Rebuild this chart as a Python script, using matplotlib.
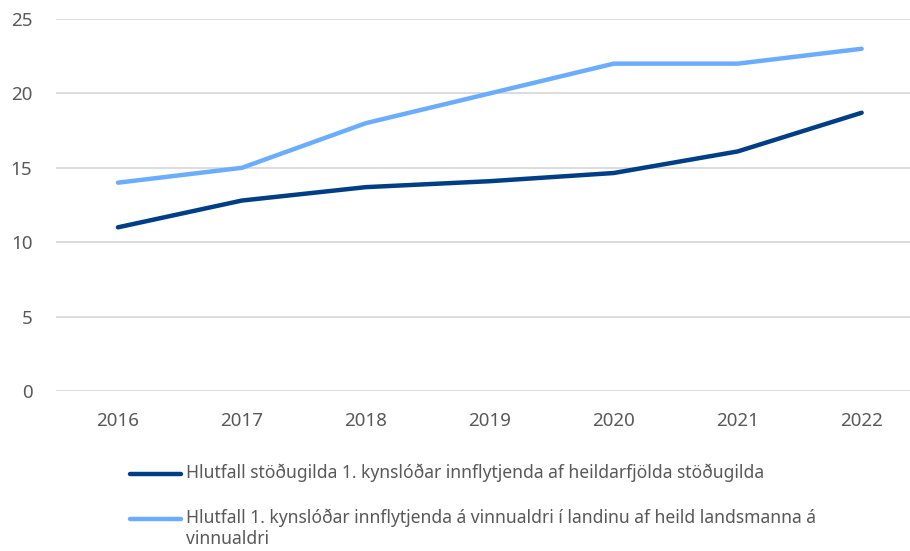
import matplotlib.pyplot as plt
from matplotlib.lines import Line2D

# data
years = ["2016", "2017", "2018", "2019", "2020", "2021", "2022"]
stodugildi = [11.0, 12.8, 13.7, 14.1, 14.65, 16.1, 18.7]
vinnualdur = [14.0, 15.0, 18.0, 20.0, 22.0, 22.0, 23.0]
labels = [
    "Hlutfall stöðugilda 1. kynslóðar innflytjenda af heildarfjölda stöðugilda",
    "Hlutfall 1. kynslóðar innflytjenda á vinnualdri í landinu af heild landsmanna á\nvinnualdri",
]
colors = ["#003f87", "#6aadfe"]

plt.rcParams["font.family"] = ["Noto Sans", "DejaVu Sans"]
txt_color = "#595959"

fig = plt.figure(figsize=(9.1, 5.51), dpi=100, facecolor="white")
ax = fig.add_axes([56 / 910, 1 - 391 / 551, 1 - 56 / 910, (391 - 19) / 551])

x = range(len(years))
for vals, c in zip([stodugildi, vinnualdur], colors):
    ax.plot(x, vals, color=c, linewidth=3.2, solid_capstyle="round",
            solid_joinstyle="round", zorder=3)

ax.set_xlim(-0.5, 6.39)
ax.set_ylim(0, 25)
ax.set_yticks([0, 5, 10, 15, 20, 25])
ax.set_xticks(list(x), years)
ax.grid(axis="y", color="#d6d6d6", linewidth=1.2)
ax.set_axisbelow(True)
for s in ax.spines.values():
    s.set_visible(False)
ax.tick_params(axis="both", length=0, labelsize=13.5, colors=txt_color)
ax.tick_params(axis="y", pad=17)
ax.tick_params(axis="x", pad=15)

# legend drawn by hand (handle sits on first line of wrapped text)
leg_y = [474, 519]
for lab, c, yy in zip(labels, colors, leg_y):
    yf = 1 - yy / 551
    fig.add_artist(Line2D([130 / 910, 181 / 910], [yf, yf], color=c,
                          linewidth=3.2, solid_capstyle="round"))
    fig.text(186 / 910, yf + 10 / 551, lab, ha="left", va="top", fontsize=12.6,
             color=txt_color, linespacing=1.2)

fig.savefig("out.png", dpi=100)
